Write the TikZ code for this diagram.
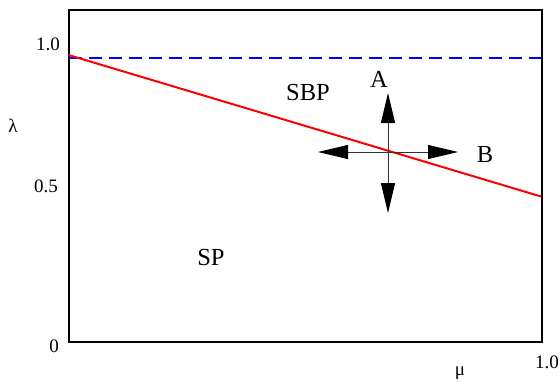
\documentclass[tikz,border=0pt]{standalone}
\usepackage{fontspec}
\setmainfont{Liberation Serif}
\usetikzlibrary{arrows.meta}
\begin{document}
\begin{tikzpicture}[x=1pt,y=-1pt,
  frame/.style={line width=2pt},
  ticklbl/.style={font=\fontsize{19}{19}\selectfont},
  axlbl/.style={font=\fontsize{19}{19}\selectfont},
  region/.style={font=\fontsize{24.5}{24.5}\selectfont},
  crossarrow/.style={line width=0.9pt, draw=black!80, -{Triangle[length=30pt,width=14pt,fill=black,color=black]}}]
\useasboundingbox (0,0) rectangle (560,381);
\coordinate (bl) at (68.5,342);
\coordinate (tr) at (541.5,10);
\draw[frame] (bl) rectangle (tr);
\coordinate (bL) at (68.5,58);
\coordinate (bR) at (541,58);
\draw[blue, line width=2pt, dash pattern=on 13pt off 7pt] (bL) -- (bR);
\coordinate (rL) at (68.5,55);
\coordinate (rR) at (541,196.5);
\draw[red, line width=2pt] (rL) -- (rR);
\coordinate (c) at (388,152);
\coordinate (up) at (388,93);
\coordinate (dn) at (388,213);
\coordinate (lf) at (318,152);
\coordinate (rt) at (458,152);
\draw[crossarrow] (c) -- (up);
\draw[crossarrow] (c) -- (dn);
\draw[crossarrow] (c) -- (lf);
\draw[crossarrow] (c) -- (rt);
\node[ticklbl] (y1) at (48,44) {1.0};
\node[ticklbl] (y05) at (46,186) {0.5};
\node[ticklbl] (y0) at (54,346) {0};
\node[ticklbl] (x1) at (547,362) {1.0};
\node[axlbl] (lam) at (13,126) {λ};
\node[axlbl] (mu) at (460,373) {μ};
\node[region] (sbp) at (308,93) {SBP};
\node[region] (sp) at (211,258) {SP};
\node[region] (A) at (379,79) {A};
\node[region] (B) at (485,155) {B};
\end{tikzpicture}
\end{document}
